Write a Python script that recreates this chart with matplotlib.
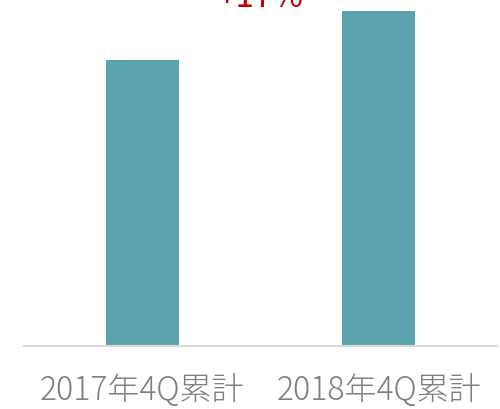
import matplotlib
matplotlib.use("Agg")
import matplotlib.pyplot as plt

plt.rcParams['font.family'] = ['Noto Sans CJK JP', 'DejaVu Sans']

categories = ["2017年4Q累計", "2018年4Q累計"]
values = [100, 117]
growth_label = "+17%"

BAR = "#5BA3AF"
GREY = "#7F7F7F"
RED = "#C00000"

fig = plt.figure(figsize=(5, 4.09), dpi=100)
ax = fig.add_axes([0.048, 0.154, 0.946, 0.846])
x = range(len(values))
ax.bar(x, values, width=0.31, color=BAR, zorder=2)
ax.set_xlim(-0.5, 1.5)
ax.set_ylim(0, 120.8)

for s in ["top", "right", "left"]:
    ax.spines[s].set_visible(False)
ax.spines["bottom"].set_color("#D9D9D9")
ax.spines["bottom"].set_linewidth(1.5)
ax.set_yticks([])
ax.set_xticks(list(x))
ax.set_xticklabels(categories, fontsize=23, color=GREY, fontweight="light")
ax.tick_params(axis="x", length=0, pad=20)

ax.text(0.5, 115.6, growth_label, ha="center", va="bottom", fontsize=24,
        color=RED, clip_on=False)

fig.savefig("out.png", dpi=100)
